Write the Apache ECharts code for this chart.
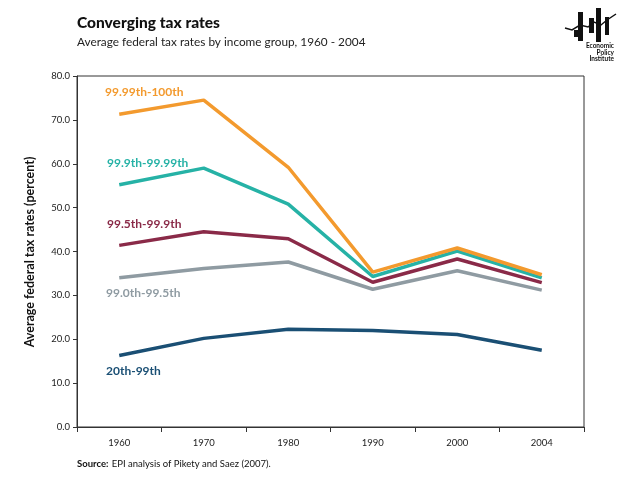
<!DOCTYPE html>
<html><head><meta charset="utf-8">
<script src="https://cdn.jsdelivr.net/npm/echarts@6/dist/echarts.min.js"></script>
<style>html,body{margin:0;padding:0;background:#fff}#c{width:640px;height:485px}</style>
</head><body><div id="c"></div>
<script>
const years = ['1960','1970','1980','1990','2000','2004'];
const seriesNames = ['99.99th-100th','99.9th-99.99th','99.5th-99.9th','99.0th-99.5th','20th-99th'];
const top001 = [71.3, 74.5, 59.2, 35.3, 40.8, 34.7];
const top01 = [55.2, 59.0, 50.8, 34.3, 40.1, 34.0];
const top05 = [41.4, 44.5, 42.9, 33.0, 38.3, 32.9];
const top1 = [34.0, 36.1, 37.6, 31.4, 35.6, 31.2];
const mid = [16.3, 20.2, 22.3, 22.0, 21.1, 17.5];
const yTicks = [0,10,20,30,40,50,60,70,80];
const colors = ['#F39A2E','#26B2A6','#8A2A48','#8F9BA2','#1A4F74'];
const values = [top001, top01, top05, top1, mid];
const labelPos = [[105,92],[107,163],[107,224],[106,293],[106,371]];
const F = 'Lato, "Open Sans", sans-serif';

const chart = echarts.init(document.getElementById('c'));
const ink = '#111';
const graphic = [
  {type:'text', x:77, y:15, style:{text:'Converging tax rates', font:'900 15.5px '+F, fill:ink}},
  {type:'text', x:77, y:36, style:{text:'Average federal tax rates by income group, 1960 - 2004', font:'11.8px '+F, fill:'#222'}},
  {type:'text', x:77, y:458, style:{rich:{b:{font:'bold 9.5px '+F, fill:ink},n:{font:'9.5px '+F, fill:ink}}, text:'{b|Source:} {n|EPI analysis of Pikety and Saez (2007).}'}},
  // logo
  {type:'rect', shape:{x:574,y:30,width:5,height:7}, style:{fill:ink}},
  {type:'rect', shape:{x:578,y:12,width:5,height:29}, style:{fill:ink}},
  {type:'rect', shape:{x:589,y:18,width:5,height:15}, style:{fill:ink}},
  {type:'rect', shape:{x:596,y:8,width:5,height:34}, style:{fill:ink}},
  {type:'rect', shape:{x:605,y:17,width:4,height:18}, style:{fill:ink}},
  {type:'polyline', shape:{points:[[565,28],[572,30],[580,25],[588,27],[594,22],[601,25],[607,20],[616,14]]}, style:{stroke:ink, lineWidth:1.5, fill:null}},
  {type:'text', x:614, y:43, style:{text:'Economic\nPolicy\nInstitute', font:'bold 6.5px '+F, fill:ink, align:'right', verticalAlign:'top', lineHeight:6.5}}
];
labelPos.forEach((p,i)=>{
  graphic.push({type:'text', x:p[0], y:p[1], style:{text:seriesNames[i], font:'bold 12px '+F, fill:colors[i], verticalAlign:'middle'}});
});
graphic.push({type:'text', x:30, y:252, rotation:Math.PI/2,
  style:{text:'Average federal tax rates (percent)', font:'bold 12.5px '+F, fill:ink, align:'center', verticalAlign:'middle'}});

chart.setOption({
  animation:false,
  grid:{left:77, right:56, top:76, bottom:58, show:true, borderColor:'#333', borderWidth:1},
  xAxis:{type:'category', data:years, boundaryGap:true,
    axisLine:{lineStyle:{color:'#333'}},
    axisTick:{show:true, inside:false, length:5, lineStyle:{color:'#333'}},
    axisLabel:{fontFamily:F, fontSize:9.5, color:'#222', margin:11}},
  yAxis:{type:'value', min:0, max:80, interval:10,
    axisLine:{show:true, lineStyle:{color:'#333'}},
    axisTick:{show:true, length:4, lineStyle:{color:'#333'}},
    splitLine:{show:false},
    axisLabel:{fontFamily:F, fontSize:9.5, color:'#222', margin:7, formatter:v=>yTicks.includes(v)?v.toFixed(1):''}},
  series: values.map((d,i)=>({name:seriesNames[i], type:'line', data:d, symbol:'none',
    lineStyle:{width:3.5, color:colors[i]}, z:10-i})),
  graphic: graphic
});
</script></body></html>
